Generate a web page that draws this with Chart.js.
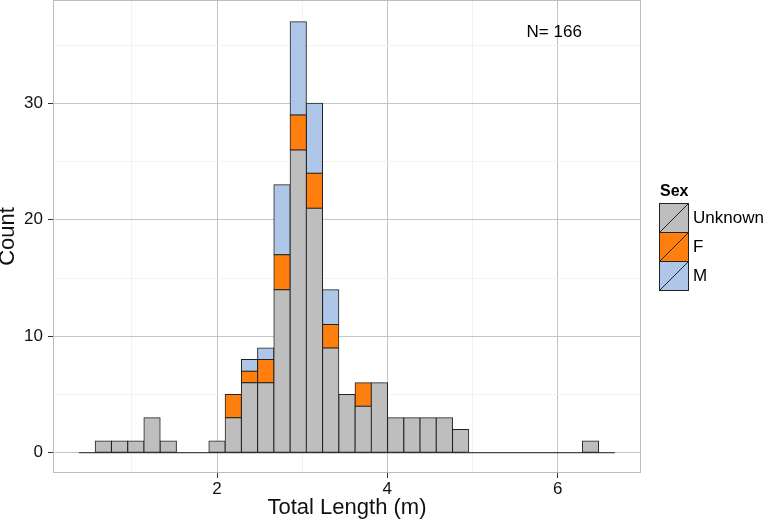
<!DOCTYPE html>
<html>
<head>
<meta charset="utf-8">
<script src="https://cdn.jsdelivr.net/npm/chart.js@4/dist/chart.umd.min.js"></script>
<style>
    html, body { margin: 0; padding: 0; background: #fff; }
    #wrap { width: 766px; height: 522px; }
</style>
</head>
<body>
<div id="wrap"><canvas id="myChart" width="766" height="522"></canvas></div>
<script>
// histogram bins (centre of each bin, metres)
const binCenters = [0.475, 0.665, 0.856, 1.047, 1.237, 1.428, 1.619, 1.810, 2.000, 2.191,
    2.382, 2.572, 2.763, 2.954, 3.144, 3.335, 3.526, 3.717, 3.907, 4.098,
    4.289, 4.479, 4.670, 4.861, 5.051, 5.242, 5.433, 5.624, 5.814, 6.005,
    6.196, 6.386, 6.577];
const binRange = [0.379, 6.672];

// counts per bin, per sex
const unknownCounts = [0, 1, 1, 1, 3, 1, 0, 0, 1, 3, 6, 6, 14, 26, 21, 9, 5, 4, 6, 3,
    3, 3, 3, 2, 0, 0, 0, 0, 0, 0, 0, 1, 0];
const femaleCounts = [0, 0, 0, 0, 0, 0, 0, 0, 0, 2, 1, 2, 3, 3, 3, 2, 0, 2, 0, 0,
    0, 0, 0, 0, 0, 0, 0, 0, 0, 0, 0, 0, 0];
const maleCounts = [0, 0, 0, 0, 0, 0, 0, 0, 0, 0, 1, 1, 6, 8, 6, 3, 0, 0, 0, 0,
    0, 0, 0, 0, 0, 0, 0, 0, 0, 0, 0, 0, 0];

const sexLabels = ['Unknown', 'F', 'M'];
const sexColors = ['#bebebe', '#ff7f0e', '#aec7e8'];

const xTicks = [1, 2, 3, 4, 5, 6];
const yTicks = [0, 5, 10, 15, 20, 25, 30, 35];
const note = { text: 'N= 166', x: 5.96, y: 36.1 };

const FONT = '"Liberation Sans", Arial, sans-serif';
const outline = '#222';

function toPoints(counts) {
    return counts.map((c, i) => ({ x: binCenters[i], y: c === 0 ? null : c }));
}

const barDatasets = [unknownCounts, femaleCounts, maleCounts].map((counts, i) => ({
    type: 'bar',
    label: sexLabels[i],
    data: toPoints(counts),
    backgroundColor: sexColors[i],
    borderColor: outline,
    borderWidth: 1,
    borderSkipped: false,
    inflateAmount: 0.5,
    barPercentage: 1,
    categoryPercentage: 1,
    order: 1
}));

// zero-count bins still show as a flat outline along 0
const baseline = {
    type: 'line',
    label: 'baseline',
    data: [{ x: binRange[0], y: 0 }, { x: binRange[1], y: 0 }],
    borderColor: outline,
    borderWidth: 1,
    pointRadius: 0,
    order: 0
};

const panelPlugin = {
    id: 'panel',
    afterDraw(chart) {
        const { ctx, chartArea: a, scales } = chart;
        ctx.save();
        ctx.strokeStyle = '#bcbcbc';
        ctx.lineWidth = 1;
        ctx.strokeRect(Math.round(a.left) + 0.5, Math.round(a.top) + 0.5,
            Math.round(a.right - a.left) - 1, Math.round(a.bottom - a.top) - 1);

        // N label
        ctx.fillStyle = '#000';
        ctx.font = '17px ' + FONT;
        ctx.textAlign = 'center';
        ctx.textBaseline = 'middle';
        ctx.fillText(note.text, scales.x.getPixelForValue(note.x), scales.y.getPixelForValue(note.y));

        // legend
        const lx = 659, ly = 203, key = 29;
        ctx.textAlign = 'left';
        ctx.textBaseline = 'alphabetic';
        ctx.font = 'bold 16px ' + FONT;
        ctx.fillText('Sex', lx + 1, 196);
        ctx.font = '17px ' + FONT;
        ctx.textBaseline = 'middle';
        sexLabels.forEach((lab, i) => {
            const y = ly + i * key;
            ctx.fillStyle = sexColors[i];
            ctx.fillRect(lx, y, 30, key);
            ctx.strokeStyle = outline;
            ctx.lineWidth = 1;
            ctx.strokeRect(lx + 0.5, y + 0.5, 29, key);
            ctx.beginPath();
            ctx.moveTo(lx + 1, y + key);
            ctx.lineTo(lx + 29, y + 1);
            ctx.stroke();
            ctx.fillStyle = '#000';
            ctx.fillText(lab, lx + 34, y + key / 2 + 1);
        });
        ctx.restore();
    }
};

const ctx = document.getElementById('myChart').getContext('2d');
const chart = new Chart(ctx, {
    data: {
        datasets: barDatasets.concat([baseline])
    },
    options: {
        responsive: false,
        animation: false,
        devicePixelRatio: 1,
        layout: { padding: { left: 0, top: 0, right: 125, bottom: 0 } },
        plugins: {
            legend: { display: false },
            tooltip: { enabled: false }
        },
        scales: {
            x: {
                type: 'linear',
                stacked: true,
                offset: false,
                min: 0.074,
                max: 6.979,
                afterBuildTicks: (s) => { s.ticks = xTicks.map(v => ({ value: v })); },
                afterFit: (s) => {
                    s.height = 49;
                    s.paddingLeft = 0;
                    s.paddingRight = 0;
                },
                border: { display: false },
                grid: {
                    offset: false,
                    color: (c) => c.tick && c.tick.value % 2 === 0 ? '#c4c4c4' : '#f3f3f3',
                    tickColor: (c) => c.tick && c.tick.value % 2 === 0 ? '#333' : 'rgba(0,0,0,0)',
                    tickLength: 5,
                    lineWidth: 1
                },
                ticks: {
                    autoSkip: false,
                    maxRotation: 0,
                    padding: 1,
                    color: '#111',
                    font: { family: FONT, size: 17 },
                    callback: (v) => v % 2 === 0 ? String(v) : ''
                },
                title: {
                    display: true,
                    text: 'Total Length (m)',
                    color: '#111',
                    font: { family: FONT, size: 22, lineHeight: 1 },
                    padding: { top: 0, bottom: 3 }
                }
            },
            y: {
                type: 'linear',
                stacked: true,
                min: -1.74,
                max: 38.87,
                afterBuildTicks: (s) => { s.ticks = yTicks.map(v => ({ value: v })); },
                afterFit: (s) => {
                    s.width = 53;
                    s.paddingTop = 0;
                    s.paddingBottom = 0;
                },
                border: { display: false },
                grid: {
                    color: (c) => c.tick && c.tick.value % 10 === 0 ? '#c4c4c4' : '#f3f3f3',
                    tickColor: (c) => c.tick && c.tick.value % 10 === 0 ? '#333' : 'rgba(0,0,0,0)',
                    tickLength: 5,
                    lineWidth: 1
                },
                ticks: {
                    autoSkip: false,
                    padding: 5,
                    color: '#111',
                    font: { family: FONT, size: 17 },
                    callback: (v) => v % 10 === 0 ? String(v) : ''
                },
                title: {
                    display: true,
                    text: 'Count',
                    color: '#111',
                    font: { family: FONT, size: 22, lineHeight: 0.7 },
                    padding: { top: 0, bottom: 0 }
                }
            }
        }
    },
    plugins: [panelPlugin]
});
</script>
</body>
</html>
